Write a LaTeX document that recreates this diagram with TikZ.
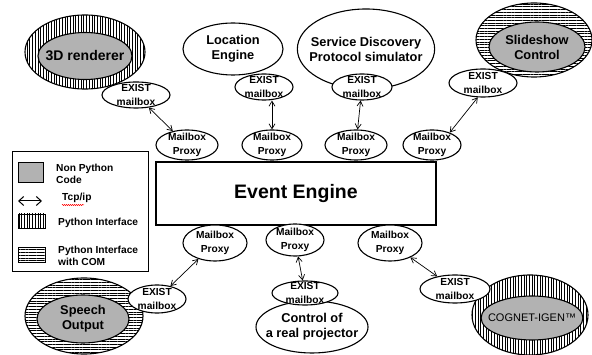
\documentclass[tikz,border=0pt]{standalone}
\usepackage{fontspec}
\setmainfont{Liberation Sans}
\usetikzlibrary{shapes.geometric,patterns.meta,arrows.meta,decorations.pathmorphing}
\definecolor{ngray}{RGB}{178,178,178}
\newcommand\mbfont{\fontsize{10.2}{13.5}\selectfont\bfseries}
\newcommand\bigfont{\fontsize{12.8}{15}\selectfont\bfseries}
\begin{document}
\begin{tikzpicture}[x=1pt,y=-1pt,
 oval/.style={ellipse, draw, line width=1.1pt, inner sep=-8pt, align=center},
 sz/.style 2 args={minimum width=#1pt, minimum height=#2pt},
 mailbox/.style={oval, fill=white, font=\mbfont},
 proxy/.style={oval, fill=white, font=\mbfont},
 ring/.style={oval, preaction={fill=white}},
 vring/.style={ring, pattern={Lines[angle=90,distance=2.7pt,line width=0.5pt]}},
 hring/.style={ring, pattern={Lines[angle=0,distance=2.7pt,line width=0.5pt]}},
 core/.style={oval, fill=ngray, font=\bigfont},
 comp/.style={oval, fill=white, font=\bigfont},
 arr/.style={{Straight Barb[length=5pt,width=6pt]}-{Straight Barb[length=5pt,width=6pt]}, line width=0.7pt},
 legarr/.style={{Straight Barb[length=5pt,width=9pt]}-{Straight Barb[length=5pt,width=9pt]}, line width=1pt},
 lt/.style={font=\fontsize{10.2}{12}\selectfont\bfseries, align=left, inner sep=1pt, anchor=west},
 lsq/.style={draw, line width=0.9pt, inner sep=0pt},
]
\useasboundingbox (0,0) rectangle (592,355);

% Event engine
\node[draw, line width=1.1pt, minimum width=280pt, minimum height=63pt, inner sep=0pt,
      font=\fontsize{19.5}{22}\selectfont\bfseries] (ee) at (296,193.5) {Event Engine};

% 3D renderer
\node[vring, sz={120}{74}] (r3d) at (85,52) {};
\node[core, sz={94}{47}] (c3d) at (85,56) {\fontsize{14}{16}\selectfont 3D renderer};
\node[mailbox, sz={68}{26}] (m3d) at (136,95) {EXIST\\mailbox};

% Location engine
\node[comp, sz={100}{52}] (loc) at (233,49) {Location\\Engine};
\node[mailbox, sz={58}{26}] (mloc) at (264,87) {EXIST\\mailbox};

% Service discovery
\node[comp, sz={126}{80}] (sd) at (366,49) {Service Discovery\\Protocol simulator};
\node[mailbox, sz={60}{26}] (msd) at (362,87) {EXIST\\mailbox};

% Slideshow
\node[hring, sz={116}{74}] (rss) at (534,40) {};
\node[core, sz={96}{50}] (css) at (537,47) {Slideshow\\Control};
\node[mailbox, sz={68}{28}] (mss) at (483,83) {EXIST\\mailbox};

% proxies top
\node[proxy, sz={62}{30}] (p1) at (187,145) {Mailbox\\Proxy};
\node[proxy, sz={60}{30}] (p2) at (272,145) {Mailbox\\Proxy};
\node[proxy, sz={62}{30}] (p3) at (356,145) {Mailbox\\Proxy};
\node[proxy, sz={58}{30}] (p4) at (432,145) {Mailbox\\Proxy};
% proxies bottom
\node[proxy, sz={64}{36}] (p5) at (215,243) {Mailbox\\Proxy};
\node[proxy, sz={58}{32}] (p6) at (295,240) {Mailbox\\Proxy};
\node[proxy, sz={64}{36}] (p7) at (390,243) {Mailbox\\Proxy};

% Speech output
\node[hring, sz={118}{76}] (rsp) at (84,316) {};
\node[core, sz={92}{48}] (csp) at (83,319) {Speech\\Output};
\node[mailbox, sz={58}{28}] (msp) at (157,299) {EXIST\\mailbox};

% Control of projector
\node[comp, sz={112}{52}] (ctl) at (312,327) {Control of\\a real projector};
\node[mailbox, sz={66}{24}] (mctl) at (305,293) {EXIST\\mailbox};

% COGNET
\node[vring, sz={116}{80}] (rcg) at (530,315) {};
\node[core, sz={100}{44}, font=\fontsize{11}{13}\selectfont] (ccg) at (532,318) {COGNET-IGEN™};
\node[mailbox, sz={70}{28}] (mcg) at (455,289) {EXIST\\mailbox};

% connectors
\draw[arr] (m3d) -- (p1);
\draw[arr] (p2.north) -- (p2.north |- mloc.south);
\draw[arr] (msd) -- (p3);
\draw[arr] (p4.35) -- (mss.250);
\draw[arr] (p5) -- (msp);
\draw[arr] (p6) -- (mctl);
\draw[arr] (p7) -- (mcg);

% legend
\node[draw, line width=1pt, minimum width=136pt, minimum height=120pt, inner sep=0pt] (leg) at (80,212) {};
\node[lsq, fill=ngray, minimum width=25pt, minimum height=20pt] (lgray) at (30.5,172) {};
\node[lt] (lgrayt) at (55,173.5) {Non Python\\Code};
\coordinate (la1) at (18,201);
\coordinate (la2) at (42,201);
\draw[legarr] (la1) -- (la2);
\node[lt] (ltcp) at (61,198) {Tcp/ip};
\draw[red, line width=0.5pt, decorate, decoration={snake, amplitude=0.6pt, segment length=2pt}] (62,205) -- (84,205);
\node[lsq, pattern={Lines[angle=90,distance=2.7pt,line width=0.5pt]}, minimum width=27pt, minimum height=14pt] (lv) at (31.5,221) {};
\node[lt] (lvt) at (57,223) {Python Interface};
\node[lsq, pattern={Lines[angle=0,distance=2.7pt,line width=0.5pt]}, minimum width=27pt, minimum height=15pt] (lh) at (31.5,254.5) {};
\node[lt] (lht) at (57,256) {Python Interface\\with COM};
\end{tikzpicture}
\end{document}
